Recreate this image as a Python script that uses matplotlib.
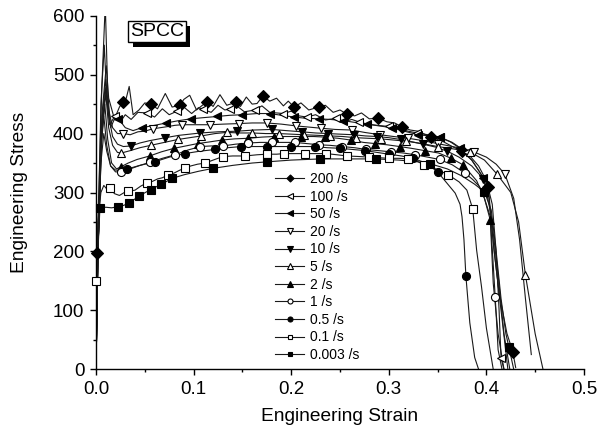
import matplotlib
matplotlib.use("Agg")
import matplotlib.pyplot as plt
from matplotlib.lines import Line2D
from matplotlib import patheffects as pe
from matplotlib.ticker import MultipleLocator

plt.rcParams['font.family'] = ['Liberation Sans', 'DejaVu Sans']

labels = ['200 /s', '100 /s', '50 /s', '20 /s', '10 /s', '5 /s', '2 /s', '1 /s', '0.5 /s', '0.1 /s', '0.003 /s']
xticks = [0.0, 0.1, 0.2, 0.3, 0.4, 0.5]
yticks = [0, 100, 200, 300, 400, 500, 600]

# ---- curve line vertices (strain, stress) ----
curve_200 = [(0, 0), (0.001, 198), (0.006, 480), (0.0095, 620), (0.012, 470), (0.015, 410), (0.019, 425),
             (0.024, 445), (0.028, 454), (0.031, 460), (0.034, 480), (0.038, 432), (0.044, 440), (0.050, 452),
             (0.056, 450), (0.063, 442), (0.071, 468), (0.078, 445), (0.086, 448), (0.090, 458), (0.096, 465),
             (0.103, 440), (0.109, 448), (0.114, 454), (0.120, 446), (0.127, 466), (0.134, 448), (0.143, 453),
             (0.148, 446), (0.154, 462), (0.160, 450), (0.165, 451), (0.171, 464), (0.178, 455), (0.185, 460),
             (0.192, 447), (0.197, 455), (0.203, 445), (0.210, 452), (0.218, 440), (0.228, 445), (0.235, 448),
             (0.243, 436), (0.250, 440), (0.257, 433), (0.265, 430), (0.272, 435), (0.280, 425), (0.289, 426),
             (0.298, 420), (0.306, 418), (0.314, 411), (0.322, 406), (0.330, 404), (0.343, 394), (0.355, 387),
             (0.365, 378), (0.375, 370), (0.385, 355), (0.393, 335), (0.402, 310), (0.405, 250), (0.408, 200),
             (0.413, 130), (0.421, 61), (0.427, 30), (0.430, 3)]
curve_100 = [(0, 0), (0.002, 200), (0.005, 450), (0.0085, 550), (0.011, 460), (0.014, 415), (0.019, 429),
             (0.025, 420), (0.030, 432), (0.036, 424), (0.043, 436), (0.052, 435), (0.060, 428), (0.068, 442),
             (0.075, 432), (0.083, 438), (0.090, 445), (0.098, 434), (0.105, 444), (0.110, 441), (0.118, 436),
             (0.125, 448), (0.132, 440), (0.137, 442), (0.145, 446), (0.152, 437), (0.163, 440), (0.170, 447),
             (0.178, 436), (0.192, 434), (0.200, 438), (0.208, 430), (0.216, 428), (0.225, 432), (0.235, 423),
             (0.246, 426), (0.255, 420), (0.262, 424), (0.269, 420), (0.278, 416), (0.288, 414), (0.300, 412),
             (0.310, 408), (0.320, 404), (0.329, 401), (0.340, 398), (0.352, 394), (0.365, 385), (0.380, 368),
             (0.392, 345), (0.400, 320), (0.406, 280), (0.410, 200), (0.413, 100), (0.415, 19), (0.418, 0)]
curve_50 = [(0, 0), (0.002, 200), (0.006, 430), (0.0105, 515), (0.013, 460), (0.018, 430), (0.023, 425),
            (0.030, 410), (0.038, 405), (0.047, 410), (0.060, 414), (0.072, 418), (0.085, 422), (0.097, 425),
            (0.110, 427), (0.124, 429), (0.137, 431), (0.150, 432), (0.165, 434), (0.178, 434), (0.190, 431),
            (0.203, 428), (0.215, 426), (0.228, 425), (0.240, 424), (0.253, 422), (0.265, 419), (0.278, 416),
            (0.290, 413), (0.303, 410), (0.316, 404), (0.330, 398), (0.342, 396), (0.352, 394), (0.363, 386),
            (0.373, 375), (0.385, 355), (0.397, 325), (0.405, 260), (0.412, 160), (0.418, 60), (0.424, 0)]
curve_20 = [(0, 0), (0.002, 200), (0.006, 420), (0.010, 492), (0.013, 440), (0.017, 410), (0.022, 400),
            (0.028, 400), (0.035, 398), (0.043, 403), (0.050, 404), (0.058, 408), (0.066, 410), (0.074, 412),
            (0.081, 414), (0.088, 415), (0.100, 415), (0.117, 415), (0.130, 416), (0.147, 417), (0.160, 418),
            (0.175, 418), (0.190, 416), (0.205, 413), (0.218, 411), (0.231, 409), (0.245, 407), (0.262, 406),
            (0.275, 402), (0.291, 398), (0.305, 395), (0.320, 392), (0.335, 388), (0.350, 383), (0.365, 378),
            (0.377, 374), (0.387, 369), (0.400, 360), (0.410, 348), (0.419, 331), (0.428, 290), (0.434, 220),
            (0.440, 120), (0.446, 25)]
curve_10 = [(0, 0), (0.002, 200), (0.006, 410), (0.010, 478), (0.013, 430), (0.017, 395), (0.022, 382),
            (0.028, 378), (0.036, 379), (0.045, 384), (0.055, 388), (0.071, 393), (0.085, 397), (0.107, 401),
            (0.125, 403), (0.144, 404), (0.162, 406), (0.180, 407), (0.195, 405), (0.211, 403), (0.225, 401),
            (0.238, 400), (0.250, 399), (0.264, 398), (0.276, 396), (0.288, 395), (0.300, 393), (0.312, 390),
            (0.324, 386), (0.335, 382), (0.348, 377), (0.360, 370), (0.372, 360), (0.385, 345), (0.397, 323),
            (0.402, 300), (0.408, 200), (0.415, 100), (0.422, 0)]
curve_5 = [(0, 0), (0.002, 200), (0.006, 400), (0.010, 468), (0.013, 410), (0.017, 380), (0.022, 368),
           (0.026, 367), (0.035, 371), (0.045, 376), (0.056, 380), (0.070, 385), (0.084, 390), (0.096, 393),
           (0.108, 396), (0.122, 400), (0.134, 402), (0.147, 401), (0.160, 401), (0.174, 400), (0.187, 400),
           (0.200, 399), (0.213, 398), (0.227, 397), (0.240, 396), (0.253, 395), (0.266, 393), (0.279, 392),
           (0.292, 391), (0.305, 389), (0.318, 387), (0.334, 383), (0.350, 378), (0.366, 374), (0.383, 369),
           (0.398, 355), (0.411, 331), (0.425, 300), (0.433, 250), (0.440, 160), (0.450, 60), (0.458, 0)]
curve_2 = [(0, 0), (0.002, 200), (0.005, 380), (0.009, 450), (0.012, 390), (0.016, 350), (0.021, 340),
           (0.026, 344), (0.033, 350), (0.042, 356), (0.055, 362), (0.067, 369), (0.080, 375), (0.092, 379),
           (0.104, 383), (0.117, 386), (0.129, 389), (0.142, 391), (0.156, 392), (0.170, 394), (0.182, 395),
           (0.197, 395), (0.210, 395), (0.223, 395), (0.235, 394), (0.248, 392), (0.261, 389), (0.274, 385),
           (0.286, 383), (0.298, 381), (0.311, 378), (0.323, 375), (0.337, 371), (0.351, 367), (0.364, 358),
           (0.376, 347), (0.390, 320), (0.398, 290), (0.404, 253), (0.407, 146), (0.412, 60), (0.418, 0)]
curve_1 = [(0, 0), (0.002, 200), (0.005, 370), (0.008, 430), (0.011, 380), (0.015, 345), (0.020, 335),
           (0.026, 335), (0.035, 340), (0.045, 346), (0.055, 351), (0.068, 358), (0.081, 364), (0.094, 372),
           (0.107, 378), (0.118, 379), (0.130, 379), (0.143, 382), (0.156, 384), (0.168, 385), (0.180, 385),
           (0.192, 385), (0.204, 385), (0.216, 383), (0.228, 381), (0.240, 380), (0.252, 378), (0.265, 376),
           (0.277, 373), (0.290, 371), (0.302, 369), (0.315, 367), (0.327, 364), (0.340, 360), (0.352, 356),
           (0.365, 347), (0.378, 333), (0.386, 322), (0.393, 310), (0.398, 290), (0.404, 259), (0.409, 123),
           (0.412, 33), (0.416, 0)]
curve_05 = [(0, 0), (0.002, 200), (0.005, 350), (0.008, 400), (0.011, 370), (0.015, 345), (0.020, 338),
            (0.025, 338), (0.032, 340), (0.045, 346), (0.060, 352), (0.075, 360), (0.091, 366), (0.106, 370),
            (0.122, 373), (0.135, 376), (0.149, 378), (0.162, 378), (0.175, 378), (0.188, 378), (0.200, 378),
            (0.212, 378), (0.224, 378), (0.237, 376), (0.250, 375), (0.263, 373), (0.276, 371), (0.288, 368),
            (0.300, 365), (0.313, 362), (0.325, 358), (0.338, 350), (0.350, 335), (0.360, 315), (0.368, 299),
            (0.373, 280), (0.375, 259), (0.377, 220), (0.379, 158), (0.383, 79), (0.388, 20), (0.392, 0)]
curve_01 = [(0, 0), (0.0005, 150), (0.002, 250), (0.005, 300), (0.008, 312), (0.011, 306), (0.014, 307),
            (0.019, 298), (0.024, 295), (0.029, 300), (0.033, 302), (0.040, 304), (0.046, 311), (0.052, 316),
            (0.058, 319), (0.063, 323), (0.068, 325), (0.074, 330), (0.080, 333), (0.086, 338), (0.091, 341),
            (0.097, 345), (0.104, 348), (0.112, 350), (0.120, 355), (0.130, 361), (0.140, 362), (0.153, 362),
            (0.165, 364), (0.175, 365), (0.185, 365), (0.193, 366), (0.205, 366), (0.214, 366), (0.225, 366),
            (0.236, 366), (0.247, 364), (0.257, 362), (0.270, 361), (0.280, 360), (0.290, 359), (0.300, 358),
            (0.310, 358), (0.320, 357), (0.328, 354), (0.336, 347), (0.348, 340), (0.361, 330), (0.372, 318),
            (0.380, 304), (0.386, 272), (0.390, 202), (0.395, 140), (0.400, 70), (0.407, 0)]
curve_0003 = [(0, 0), (0.002, 200), (0.004, 273), (0.010, 275), (0.016, 274), (0.023, 276), (0.028, 278),
              (0.034, 282), (0.044, 294), (0.056, 305), (0.067, 314), (0.078, 324), (0.090, 330), (0.105, 336),
              (0.120, 341), (0.140, 346), (0.160, 350), (0.175, 352), (0.200, 355), (0.230, 357), (0.260, 357),
              (0.287, 357), (0.310, 355), (0.330, 352), (0.342, 349), (0.360, 340), (0.375, 328), (0.388, 314),
              (0.398, 301), (0.405, 270), (0.410, 200), (0.415, 120), (0.420, 60), (0.423, 38), (0.428, 0)]

# ---- marker positions (strain, stress) ----
mk_200 = [(0.001, 198), (0.028, 454), (0.056, 450), (0.086, 448), (0.114, 454), (0.143, 453), (0.171, 464),
          (0.203, 445), (0.228, 445), (0.257, 433), (0.289, 426), (0.314, 411), (0.343, 394), (0.375, 370),
          (0.402, 310), (0.427, 30)]
mk_100 = [(0.019, 429), (0.052, 435), (0.083, 438), (0.110, 441), (0.137, 442), (0.163, 440), (0.192, 434),
          (0.216, 428), (0.246, 426), (0.269, 420), (0.300, 412), (0.329, 401), (0.352, 394), (0.380, 368),
          (0.415, 19)]
mk_50 = [(0.023, 425), (0.047, 410), (0.072, 418), (0.097, 425), (0.124, 429), (0.150, 432), (0.178, 434),
         (0.203, 428), (0.228, 425), (0.253, 422), (0.278, 416), (0.303, 410), (0.330, 398), (0.352, 394),
         (0.373, 375), (0.397, 325)]
mk_20 = [(0.028, 400), (0.058, 408), (0.088, 415), (0.117, 415), (0.147, 417), (0.175, 418), (0.205, 413),
         (0.231, 409), (0.262, 406), (0.291, 398), (0.320, 392), (0.350, 383), (0.387, 369), (0.419, 331)]
mk_10 = [(0.036, 379), (0.071, 393), (0.107, 401), (0.144, 404), (0.180, 407), (0.211, 403), (0.238, 400),
         (0.264, 398), (0.288, 395), (0.312, 390), (0.335, 382), (0.360, 370), (0.397, 323)]
mk_5 = [(0.026, 367), (0.056, 380), (0.084, 390), (0.108, 396), (0.134, 402), (0.160, 401), (0.187, 400),
        (0.213, 398), (0.240, 396), (0.266, 393), (0.292, 391), (0.318, 387), (0.350, 378), (0.383, 369),
        (0.411, 331), (0.440, 160)]
mk_2 = [(0.026, 344), (0.055, 362), (0.080, 375), (0.104, 383), (0.129, 389), (0.156, 392), (0.182, 395),
        (0.210, 395), (0.235, 394), (0.261, 389), (0.286, 383), (0.311, 378), (0.337, 371), (0.364, 358),
        (0.376, 347), (0.404, 253)]
mk_1 = [(0.026, 335), (0.055, 351), (0.081, 364), (0.107, 378), (0.130, 379), (0.156, 384), (0.180, 385),
        (0.204, 385), (0.228, 381), (0.252, 378), (0.277, 373), (0.302, 369), (0.327, 364), (0.352, 356),
        (0.378, 333), (0.409, 123)]
mk_05 = [(0.032, 340), (0.060, 352), (0.091, 366), (0.122, 373), (0.149, 378), (0.175, 378), (0.200, 378),
         (0.224, 378), (0.250, 375), (0.276, 371), (0.300, 365), (0.325, 358), (0.350, 335), (0.379, 158)]
mk_01 = [(0.0005, 150), (0.014, 307), (0.033, 302), (0.052, 316), (0.074, 330), (0.091, 341), (0.112, 350),
         (0.130, 361), (0.153, 362), (0.175, 365), (0.193, 366), (0.214, 366), (0.236, 366), (0.257, 362),
         (0.280, 360), (0.300, 358), (0.320, 357), (0.336, 347), (0.361, 330), (0.386, 272)]
mk_0003 = [(0.004, 273), (0.023, 276), (0.034, 282), (0.044, 294), (0.056, 305), (0.067, 314), (0.078, 324),
           (0.120, 341), (0.175, 352), (0.230, 357), (0.287, 357), (0.342, 349), (0.398, 301), (0.423, 38)]

curves = [curve_200, curve_100, curve_50, curve_20, curve_10, curve_5, curve_2, curve_1, curve_05, curve_01, curve_0003]
marks = [mk_200, mk_100, mk_50, mk_20, mk_10, mk_5, mk_2, mk_1, mk_05, mk_01, mk_0003]

# styles: (marker, filled, size)
styles = [('D', True, 5.8), ('<', False, 6.3), ('<', True, 6.3), ('v', False, 6.3), ('v', True, 6.3),
          ('^', False, 6.3), ('^', True, 6.3), ('o', False, 5.8), ('o', True, 5.8), ('s', False, 5.3),
          ('s', True, 5.3)]

W, H = 610, 437
fig = plt.figure(figsize=(W / 100, H / 100), dpi=100)
ax = fig.add_axes([96 / W, (H - 369.3) / H, 488 / W, 353.6 / H])

LC = '#1a1a1a'
handles = []
for crv, mk, (m, filled, ms), lab in zip(curves, marks, styles, labels):
    xs = [p[0] for p in crv]
    ys = [p[1] for p in crv]
    ax.plot(xs, ys, color=LC, lw=0.8, zorder=2)
    mx = [p[0] for p in mk]
    my = [p[1] for p in mk]
    fc = 'black' if filled else 'white'
    ax.plot(mx, my, ls='none', marker=m, ms=ms, mfc=fc, mec='black', mew=0.8, zorder=3, clip_on=False)
    handles.append(Line2D([0], [0], color=LC, lw=0.8, marker=m, ms=ms * 0.62, mfc=fc, mec='black', mew=0.8,
                          label=lab))

ax.set_xlim(0, 0.5)
ax.set_ylim(0, 600)
ax.set_xticks(xticks)
ax.set_xticklabels([f'{v:.1f}' for v in xticks])
ax.set_yticks(yticks)
ax.xaxis.set_minor_locator(MultipleLocator(0.05))
ax.yaxis.set_minor_locator(MultipleLocator(50))
for s in ['top', 'right']:
    ax.spines[s].set_visible(False)
for s in ['left', 'bottom']:
    ax.spines[s].set_linewidth(1.0)
ax.tick_params(which='major', direction='out', length=4.3, width=1.0, labelsize=13.5, pad=4)
ax.tick_params(which='minor', direction='out', length=2.4, width=1.0)
ax.set_xlabel('Engineering Strain', fontsize=13.8, labelpad=7)
ax.set_ylabel('Engineering Stress', fontsize=13.8, labelpad=18)

leg = ax.legend(handles=handles, loc='upper left', bbox_to_anchor=(0.367, 0.558), frameon=False,
                borderpad=0, borderaxespad=0, handlelength=2.1, handletextpad=0.4, labelspacing=0.26,
                fontsize=10)

t = ax.text(0.069, 0.955, 'SPCC', transform=ax.transAxes, fontsize=14, ha='left', va='center',
            bbox=dict(boxstyle='square,pad=0.1', fc='white', ec='black', lw=1.0), zorder=5)
t.get_bbox_patch().set_path_effects([pe.SimplePatchShadow(offset=(3.5, -3.5), shadow_rgbFace='black', alpha=1.0),
                                     pe.Normal()])

fig.savefig('out.png', dpi=100)
